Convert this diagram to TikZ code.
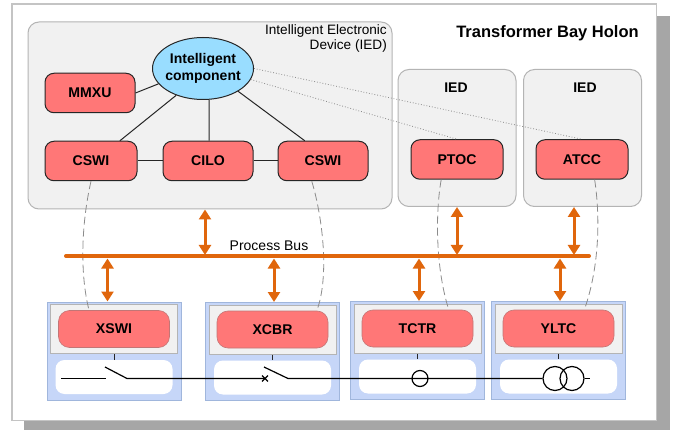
\documentclass[tikz,border=0pt]{standalone}
\usepackage{fontspec}
\setmainfont{Liberation Sans}
\usetikzlibrary{shapes,arrows,positioning,calc,arrows.meta}
\definecolor{shadowgray}{HTML}{A6A6A6}
\definecolor{framegray}{HTML}{C4C4C4}
\definecolor{panelgray}{HTML}{F1F1F1}
\definecolor{panelline}{HTML}{B4B4B4}
\definecolor{lnred}{HTML}{FF7777}
\definecolor{compblue}{HTML}{99DDFF}
\definecolor{baseblue}{HTML}{C6D6F8}
\definecolor{baseline}{HTML}{A0B6DC}
\definecolor{busorange}{HTML}{E0660C}
\tikzset{
    lnode/.style={draw=black!85, fill=lnred, rounded corners=9pt, line width=1pt, font=\fontsize{14.1}{15}\selectfont\bfseries, inner sep=0pt, minimum width=92pt, minimum height=39.5pt},
    lnodelow/.style={draw=lnred!70!black!80, fill=lnred, rounded corners=11pt, line width=0.6pt, font=\fontsize{14.1}{15}\selectfont\bfseries, inner sep=0pt, minimum width=111pt, minimum height=37pt},
    ied/.style={draw=panelline, fill=panelgray, rounded corners=11pt, line width=1pt, inner sep=0pt},
    basebox/.style={draw=baseline, fill=baseblue, line width=1pt, inner sep=0pt, minimum width=134pt, minimum height=98pt},
    innerbox/.style={draw=panelline, fill=panelgray, line width=1pt, inner sep=0pt, minimum width=127pt, minimum height=49pt},
    whitebox/.style={fill=white, rounded corners=9pt, inner sep=0pt, minimum width=117pt, minimum height=34pt},
    busarrow/.style={{Triangle[length=10pt,width=12pt]}-{Triangle[length=10pt,width=12pt]}, busorange, line width=3pt},
    assoc/.style={black!85, line width=1pt},
    remote/.style={gray!90, dotted, line width=0.8pt},
    signal/.style={gray!90, dash pattern=on 8pt off 4pt, line width=0.8pt},
    wire/.style={black, line width=1.2pt}
}
\begin{document}
\begin{tikzpicture}[x=1pt, y=-1pt]
    \useasboundingbox (0,0) rectangle (674,430);

    % Sheet
    \fill[shadowgray] (24,16) rectangle (670,430);
    \draw[framegray, fill=white, line width=1.3pt] (12,4) rectangle (656.5,420.5);
    \node[font=\fontsize{16.5}{18}\selectfont\bfseries] (title) at (547.5,33) {Transformer Bay Holon};

    % IED panels
    \node[ied, minimum width=364pt, minimum height=187pt] (iedmain) at (210,115.5) {};
    \node[ied, minimum width=118pt, minimum height=137pt] (iedprot) at (457,138) {};
    \node[ied, minimum width=118pt, minimum height=137pt] (iedtap) at (582.5,138) {};
    \node[align=right, font=\fontsize{13.6}{15}\selectfont, anchor=north east, inner sep=0pt] (iedlabel) at (387,24.5) {Intelligent Electronic\\Device (IED)};
    \node[font=\fontsize{14}{16}\selectfont\bfseries] (iedprotlabel) at (456,88) {IED};
    \node[font=\fontsize{14}{16}\selectfont\bfseries] (iedtaplabel) at (585,88) {IED};

    % Logical nodes on top
    \node[ellipse, draw=black!85, fill=compblue, line width=1pt, align=center, inner xsep=-4pt, inner ysep=-3pt, minimum width=101pt, minimum height=62pt, font=\fontsize{14}{17}\selectfont\bfseries] (comp) at (203,68.5) {Intelligent\\component};
    \node[lnode, minimum width=90pt] (mmxu) at (90,93) {MMXU};
    \node[lnode] (cswia) at (91,161) {CSWI};
    \node[lnode, minimum width=90pt] (cilo) at (208,161) {CILO};
    \node[lnode, minimum width=90pt] (cswib) at (323,161) {CSWI};
    \node[lnode] (ptoc) at (457,159.5) {PTOC};
    \node[lnode] (atcc) at (582,159.5) {ATCC};

    % Bay boxes
    \foreach \name/\xx/\yy/\txt in {xswi/114/351/XSWI, xcbr/272.5/351.5/XCBR, tctr/417.5/350.5/TCTR, yltc/558.5/350.5/YLTC} {
        \node[basebox] (\name base) at (\xx,\yy) {};
        \node[innerbox] (\name box) at (\xx,\yy-22) {};
        \node[whitebox] (\name line) at (\xx,\yy+26) {};
        \node[lnodelow] (\name) at (\xx,\yy-22) {\txt};
        \draw[black!85, line width=1pt] (\name box.south) -- (\name line.north);
    }

    % Associations
    \draw[assoc] (comp.199) -- (mmxu.east);
    \draw[assoc] (comp.225) -- (cswia.35);
    \draw[assoc] (comp.-79) -- (cilo.87);
    \draw[assoc] (comp.-33) -- (cswib.132);
    \draw[assoc] (cswia) -- (cilo);
    \draw[assoc] (cilo) -- (cswib);

    % Remote associations
    \draw[remote] (comp.0) -- (atcc.north);
    \draw[remote] (comp.-13) -- (ptoc.north);

    % Logical links to the bay
    \draw[signal] (cswia.south) .. controls (81,225) and (80,275) .. (xswi.143);
    \draw[signal] (cswib.241) .. controls (322,215) and (330,275) .. (xcbr.23);
    \draw[signal] (ptoc.232) .. controls (435,215) and (436,270) .. (tctr.31);
    \draw[signal] (atcc.-58) .. controls (600,215) and (600,265) .. (yltc.36);

    % Process bus
    \coordinate (busl) at (66,256);
    \coordinate (busr) at (589,256);
    \draw[busorange, line width=4pt, line cap=round] (busl) -- (busr);
    \node[font=\fontsize{14}{16}\selectfont, anchor=base] (buslabel) at (269,250.5) {Process Bus};
    \foreach \from/\xx in {iedmain/205, iedprot/457, iedtap/574}
        \draw[busarrow] (\xx,0 |- \from.south) -- ([yshift=1pt]\xx,0 |- busl);
    \foreach \to/\xx in {xswibase/107.5, xcbrbase/274, tctrbase/419, yltcbase/560}
        \draw[busarrow] ([yshift=-2.5pt]\xx,0 |- busl) -- (\xx,0 |- \to.north);

    % Single line
    \coordinate (wirel) at (61,378.5);
    \coordinate (swa) at (106,378.5);
    \coordinate (swb) at (127,378.5);
    \coordinate (swc) at (288,378.5);
    \coordinate (wirer) at (590,378.5);
    \node[circle, draw, wire, inner sep=0pt, minimum size=16pt] (ct) at (420,378.5) {};
    \node[circle, draw, wire, inner sep=0pt, minimum size=24pt] (trfa) at (555,378.5) {};
    \node[circle, draw, wire, inner sep=0pt, minimum size=24pt] (trfb) at (572,378.5) {};
    \node[cross out, draw, wire, line width=1.3pt, inner sep=0pt, minimum size=4.5pt] (brk) at (265,378.5) {};
    \draw[wire] (wirel) -- (swa);
    \draw[wire] (105,367) -- (swb) -- (brk.center);
    \draw[wire] (264,367) -- (swc) -- (trfa.west);
    \draw[wire] (trfb.east) -- (wirer);
\end{tikzpicture}
\end{document}
